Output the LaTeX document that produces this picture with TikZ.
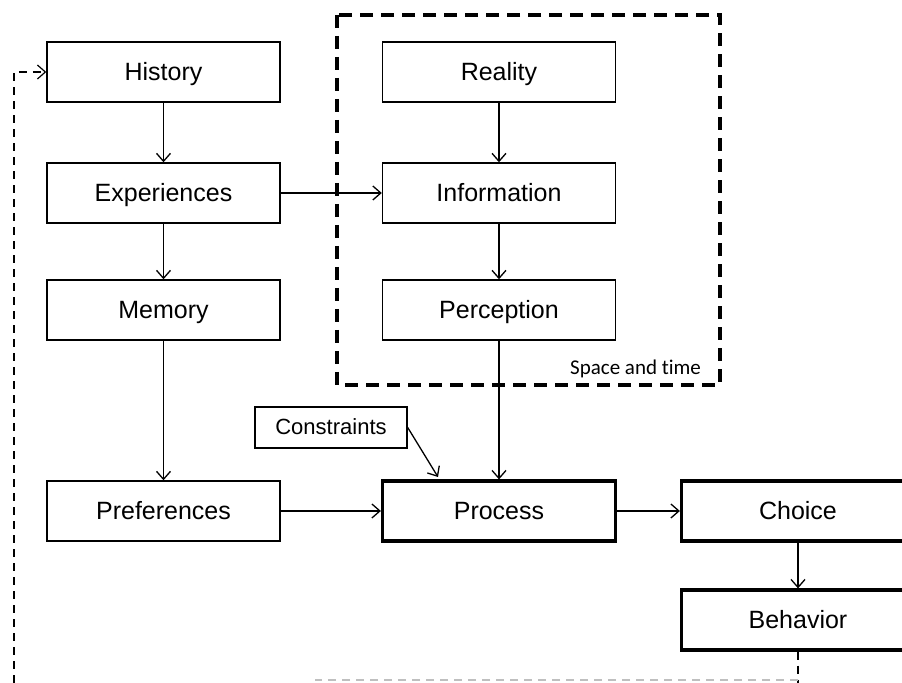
\documentclass[tikz,border=0pt]{standalone}
\usepackage{fontspec}
\setmainfont{Liberation Sans}
\newfontfamily\notefont[Ligatures=NoCommon]{Carlito}
\usetikzlibrary{arrows.meta}

\begin{document}
\begin{tikzpicture}[x=0.5pt,y=-0.5pt,
	>={Straight Barb[length=4pt,width=7pt]},
	stage/.style={draw, line width=0.7pt, minimum width=116.5pt, minimum height=30pt, inner sep=0pt, text height=10pt, text depth=1pt, font=\fontsize{12.5}{15}\selectfont},
	keystage/.style={stage, line width=1.6pt},
	link/.style={->, line width=0.65pt},
	feedback/.style={line width=0.6pt, dash pattern=on 4pt off 3pt}]
	\useasboundingbox (0,0) rectangle (902,683);
	% space and time frame
	\draw [line width=1.6pt, dash pattern=on 6.5pt off 4pt] (337,15) rectangle (720,385);
	\node [anchor=base east, font=\notefont\fontsize{10.5}{12}\selectfont] (spt) at (708,375) {Space and time};
	% left column
	\node [stage] (hist) at (163.5,72) {History};
	\node [stage] (exper) at (163.5,193) {Experiences};
	\node [stage] (mem) at (163.5,310) {Memory};
	\node [stage] (pref) at (163.5,511) {Preferences};
	% middle column
	\node [stage] (real) at (499,72) {Reality};
	\node [stage] (info) at (499,193) {Information};
	\node [stage] (perc) at (499,310) {Perception};
	\node [keystage] (proc) at (499,511) {Process};
	\node [draw, line width=0.7pt, minimum width=76pt, minimum height=20.5pt, inner sep=0pt, text height=8.5pt, text depth=1pt, font=\fontsize{11}{13}\selectfont] (cons) at (331,427.5) {Constraints};
	% right column
	\node [keystage] (choice) at (798,511) {Choice};
	\node [keystage] (behav) at (798,620) {Behavior};
	% arrows
	\draw [link] (hist) -- (exper);
	\draw [link] (exper) -- (mem);
	\draw [link] (mem) -- (pref);
	\draw [link] (real) -- (info);
	\draw [link] (info) -- (perc);
	\draw [link] (perc) -- (proc);
	\draw [link] (exper) -- (info);
	\draw [link] (pref) -- (proc);
	\draw [link] (proc) -- (choice);
	\draw [link] (choice) -- (behav);
	\coordinate (cin) at (438,477);
	\draw [link] (cons.east) -- (cin);
	% feedback loop
	\coordinate (fbr) at (798,683);
	\coordinate (fbl) at (14,683);
	\draw [feedback] (behav.south) -- (fbr);
	\draw [feedback, gray!50] (798,680) -- (315,680);
	\draw [feedback, ->] (fbl) |- (hist.west);
\end{tikzpicture}
\end{document}
